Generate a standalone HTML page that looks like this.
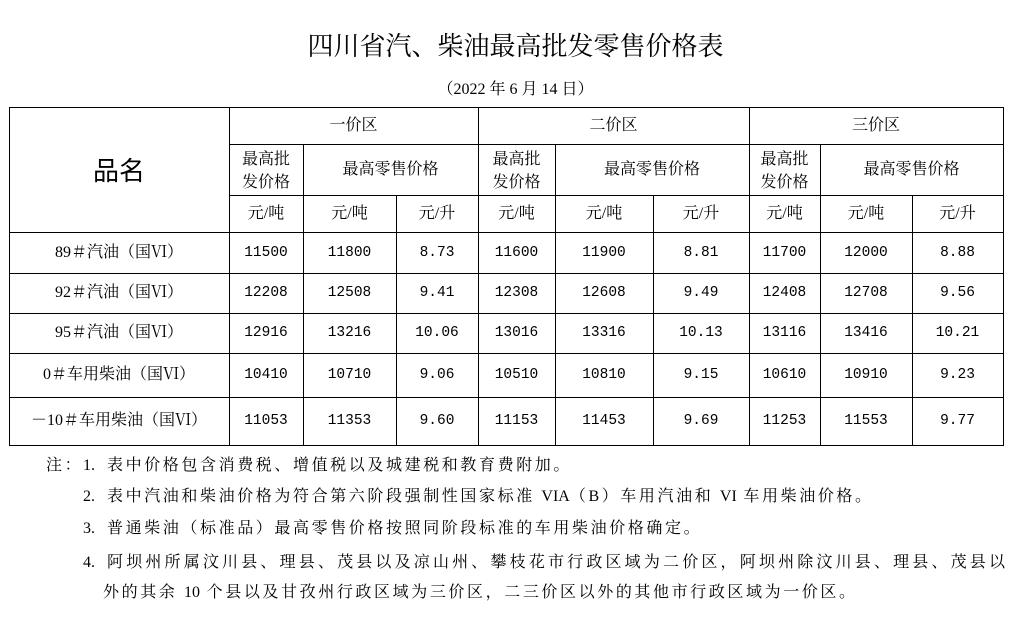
<!DOCTYPE html>
<html><head><meta charset="utf-8"><style>
body{margin:0;width:1031px;height:624px;background:#fff;position:relative;overflow:hidden;font-family:"Liberation Serif","Noto Serif CJK SC",serif;color:#000}
.h{position:absolute;height:1px;background:#000}
.v{position:absolute;width:1px;background:#000}
.t{position:absolute;font-size:16px;line-height:20px;text-align:center;white-space:nowrap}
.m{font-family:"Liberation Mono","Noto Serif CJK SC",monospace;font-size:14.5px}
.n{position:absolute;font-size:16px;line-height:20px;white-space:nowrap;letter-spacing:2.6px}
</style></head><body>
<div class="t" style="left:0;width:1031px;top:30px;font-size:26px;line-height:34px">四川省汽、柴油最高批发零售价格表</div>
<div class="t" style="left:0;width:1031px;top:80px">（2022 年 6 月 14 日）</div>

<div class="h" style="left:9px;width:995px;top:107px"></div>
<div class="h" style="left:229px;width:775px;top:144px"></div>
<div class="h" style="left:229px;width:775px;top:195px"></div>
<div class="h" style="left:9px;width:995px;top:232px"></div>
<div class="h" style="left:9px;width:995px;top:273px"></div>
<div class="h" style="left:9px;width:995px;top:313px"></div>
<div class="h" style="left:9px;width:995px;top:353px"></div>
<div class="h" style="left:9px;width:995px;top:397px"></div>
<div class="h" style="left:9px;width:995px;top:445px"></div>
<div class="v" style="left:9px;top:107px;height:339px"></div>
<div class="v" style="left:229px;top:107px;height:339px"></div>
<div class="v" style="left:303px;top:144px;height:302px"></div>
<div class="v" style="left:396px;top:195px;height:251px"></div>
<div class="v" style="left:478px;top:107px;height:339px"></div>
<div class="v" style="left:555px;top:144px;height:302px"></div>
<div class="v" style="left:653px;top:195px;height:251px"></div>
<div class="v" style="left:749px;top:107px;height:339px"></div>
<div class="v" style="left:820px;top:144px;height:302px"></div>
<div class="v" style="left:912px;top:195px;height:251px"></div>
<div class="v" style="left:1003px;top:107px;height:339px"></div>

<div class="t" style="left:9px;width:220px;top:154px;font-size:26px;line-height:34px;font-family:'Liberation Sans','Noto Sans CJK SC',sans-serif">品名</div>

<div class="t" style="left:229px;width:249px;top:116px">一价区</div>
<div class="t" style="left:478px;width:271px;top:116px">二价区</div>
<div class="t" style="left:749px;width:254px;top:116px">三价区</div>

<div class="t" style="left:229px;width:74px;top:148px;line-height:23px">最高批<br>发价格</div>
<div class="t" style="left:303px;width:175px;top:160px">最高零售价格</div>
<div class="t" style="left:478px;width:77px;top:148px;line-height:23px">最高批<br>发价格</div>
<div class="t" style="left:555px;width:194px;top:160px">最高零售价格</div>
<div class="t" style="left:749px;width:71px;top:148px;line-height:23px">最高批<br>发价格</div>
<div class="t" style="left:820px;width:183px;top:160px">最高零售价格</div>

<div class="t" style="left:229px;width:74px;top:204px">元/吨</div>
<div class="t" style="left:303px;width:93px;top:204px">元/吨</div>
<div class="t" style="left:396px;width:82px;top:204px">元/升</div>
<div class="t" style="left:478px;width:77px;top:204px">元/吨</div>
<div class="t" style="left:555px;width:98px;top:204px">元/吨</div>
<div class="t" style="left:653px;width:96px;top:204px">元/升</div>
<div class="t" style="left:749px;width:71px;top:204px">元/吨</div>
<div class="t" style="left:820px;width:92px;top:204px">元/吨</div>
<div class="t" style="left:912px;width:91px;top:204px">元/升</div>

<div class="t" style="left:9px;width:220px;top:243px">89＃汽油（国Ⅵ）</div>
<div class="t" style="left:9px;width:220px;top:283px">92＃汽油（国Ⅵ）</div>
<div class="t" style="left:9px;width:220px;top:323px">95＃汽油（国Ⅵ）</div>
<div class="t" style="left:9px;width:220px;top:365px">0＃车用柴油（国Ⅵ）</div>
<div class="t" style="left:9px;width:220px;top:411px">－10＃车用柴油（国Ⅵ）</div>

<div class="t m" style="left:229px;width:74px;top:243px">11500</div><div class="t m" style="left:303px;width:93px;top:243px">11800</div><div class="t m" style="left:396px;width:82px;top:243px">8.73</div>
<div class="t m" style="left:478px;width:77px;top:243px">11600</div><div class="t m" style="left:555px;width:98px;top:243px">11900</div><div class="t m" style="left:653px;width:96px;top:243px">8.81</div>
<div class="t m" style="left:749px;width:71px;top:243px">11700</div><div class="t m" style="left:820px;width:92px;top:243px">12000</div><div class="t m" style="left:912px;width:91px;top:243px">8.88</div>

<div class="t m" style="left:229px;width:74px;top:283px">12208</div><div class="t m" style="left:303px;width:93px;top:283px">12508</div><div class="t m" style="left:396px;width:82px;top:283px">9.41</div>
<div class="t m" style="left:478px;width:77px;top:283px">12308</div><div class="t m" style="left:555px;width:98px;top:283px">12608</div><div class="t m" style="left:653px;width:96px;top:283px">9.49</div>
<div class="t m" style="left:749px;width:71px;top:283px">12408</div><div class="t m" style="left:820px;width:92px;top:283px">12708</div><div class="t m" style="left:912px;width:91px;top:283px">9.56</div>

<div class="t m" style="left:229px;width:74px;top:323px">12916</div><div class="t m" style="left:303px;width:93px;top:323px">13216</div><div class="t m" style="left:396px;width:82px;top:323px">10.06</div>
<div class="t m" style="left:478px;width:77px;top:323px">13016</div><div class="t m" style="left:555px;width:98px;top:323px">13316</div><div class="t m" style="left:653px;width:96px;top:323px">10.13</div>
<div class="t m" style="left:749px;width:71px;top:323px">13116</div><div class="t m" style="left:820px;width:92px;top:323px">13416</div><div class="t m" style="left:912px;width:91px;top:323px">10.21</div>

<div class="t m" style="left:229px;width:74px;top:365px">10410</div><div class="t m" style="left:303px;width:93px;top:365px">10710</div><div class="t m" style="left:396px;width:82px;top:365px">9.06</div>
<div class="t m" style="left:478px;width:77px;top:365px">10510</div><div class="t m" style="left:555px;width:98px;top:365px">10810</div><div class="t m" style="left:653px;width:96px;top:365px">9.15</div>
<div class="t m" style="left:749px;width:71px;top:365px">10610</div><div class="t m" style="left:820px;width:92px;top:365px">10910</div><div class="t m" style="left:912px;width:91px;top:365px">9.23</div>

<div class="t m" style="left:229px;width:74px;top:411px">11053</div><div class="t m" style="left:303px;width:93px;top:411px">11353</div><div class="t m" style="left:396px;width:82px;top:411px">9.60</div>
<div class="t m" style="left:478px;width:77px;top:411px">11153</div><div class="t m" style="left:555px;width:98px;top:411px">11453</div><div class="t m" style="left:653px;width:96px;top:411px">9.69</div>
<div class="t m" style="left:749px;width:71px;top:411px">11253</div><div class="t m" style="left:820px;width:92px;top:411px">11553</div><div class="t m" style="left:912px;width:91px;top:411px">9.77</div>

<div class="n" style="left:46px;top:456px">注：</div>
<div class="n" style="left:83px;top:456px;letter-spacing:0">1.</div>
<div class="n" style="left:107px;top:456px">表中价格包含消费税、增值税以及城建税和教育费附加。</div>
<div class="n" style="left:83px;top:487px;letter-spacing:0">2.</div>
<div class="n" style="left:107px;top:487px">表中汽油和柴油价格为符合第六阶段强制性国家标准 <span style="letter-spacing:0">VIA</span>（B）车用汽油和 <span style="letter-spacing:0">VI</span> 车用柴油价格。</div>
<div class="n" style="left:83px;top:519px;letter-spacing:0">3.</div>
<div class="n" style="left:107px;top:519px">普通柴油（标准品）最高零售价格按照同阶段标准的车用柴油价格确定。</div>
<div class="n" style="left:83px;top:553px;letter-spacing:0">4.</div>
<div class="n" style="left:107px;top:553px;width:898px;letter-spacing:0;text-align:justify;text-align-last:justify">阿坝州所属汶川县、理县、茂县以及凉山州、攀枝花市行政区域为二价区，阿坝州除汶川县、理县、茂县以</div>
<div class="n" style="left:103px;top:583px">外的其余 <span style="letter-spacing:0">10</span> 个县以及甘孜州行政区域为三价区，二三价区以外的其他市行政区域为一价区。</div>
</body></html>
